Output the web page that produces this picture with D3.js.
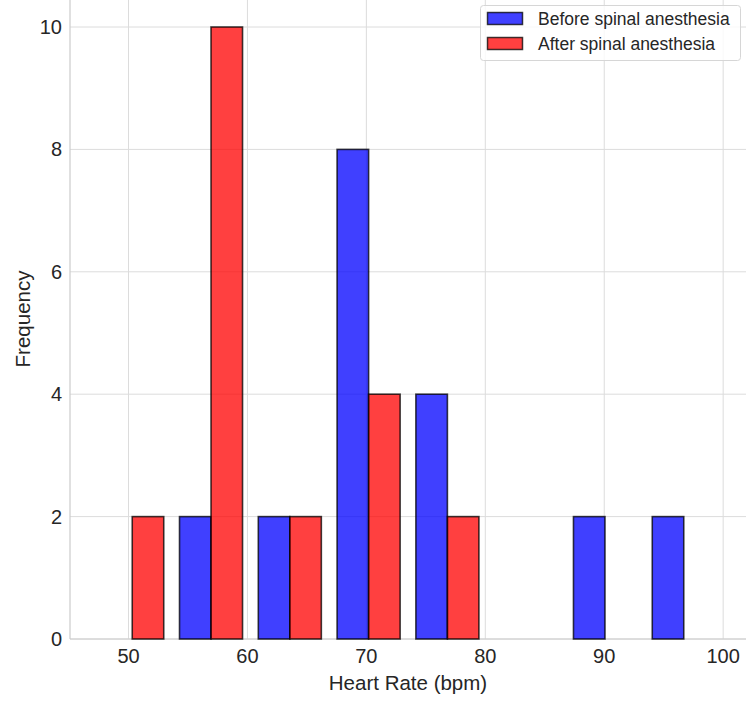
<!DOCTYPE html>
<html><head><meta charset="utf-8">
<script src="https://cdn.jsdelivr.net/npm/d3@7"></script>
<style>body{margin:0;background:#fff;} svg{display:block;font-family:"Liberation Sans",Arial,sans-serif;}</style>
</head><body>
<svg id="chart" width="750" height="705"></svg>
<script>
const binEdges = [47, 53.625, 60.25, 66.875, 73.5, 80.125, 86.75, 93.375, 100];
const beforeCounts = [0, 2, 2, 8, 4, 0, 2, 2];
const afterCounts = [2, 10, 2, 4, 2, 0, 0, 0];
const seriesNames = ["Before spinal anesthesia", "After spinal anesthesia"];
const xTicks = [50, 60, 70, 80, 90, 100];
const yTicks = [0, 2, 4, 6, 8, 10];

const m = {left: 70, right: 746, top: -3.6, bottom: 639};
const svg = d3.select("#chart");
const x = d3.scaleLinear().domain([45.08, 101.92]).range([m.left, m.right]);
const y = d3.scaleLinear().domain([0, 10.5]).range([m.bottom, m.top]);

// grid
const g = svg.append("g");
g.selectAll(".vg").data(xTicks).enter().append("line")
  .attr("x1", d => x(d)).attr("x2", d => x(d)).attr("y1", m.top).attr("y2", m.bottom)
  .attr("stroke", "#dcdcdc").attr("stroke-width", 1);
g.selectAll(".hg").data(yTicks).enter().append("line")
  .attr("x1", m.left).attr("x2", m.right).attr("y1", d => y(d)).attr("y2", d => y(d))
  .attr("stroke", "#dcdcdc").attr("stroke-width", 1);

// spines
svg.append("line").attr("x1", m.left).attr("x2", m.left).attr("y1", 0).attr("y2", m.bottom)
  .attr("stroke", "#cccccc").attr("stroke-width", 1.2);
svg.append("line").attr("x1", m.left).attr("x2", m.right).attr("y1", m.bottom).attr("y2", m.bottom)
  .attr("stroke", "#cccccc").attr("stroke-width", 1.2);

// bars
const series = [
  {name: seriesNames[0], counts: beforeCounts, color: "rgba(0,0,255,0.75)"},
  {name: seriesNames[1], counts: afterCounts, color: "rgba(255,0,0,0.75)"}
];
const dr = 0.8;
series.forEach((s, si) => {
  const bars = s.counts.map((c, i) => {
    const w = binEdges[i+1] - binEdges[i];
    const bw = dr * w / series.length;
    const x0 = binEdges[i] + 0.5 * w - 0.5 * dr * w + si * bw;
    return {x0: x0, x1: x0 + bw, c: c};
  });
  svg.append("g").selectAll("rect").data(bars).enter().append("rect")
    .attr("x", d => x(d.x0)).attr("width", d => x(d.x1) - x(d.x0))
    .attr("y", d => y(d.c)).attr("height", d => y(0) - y(d.c))
    .attr("fill", s.color)
    .attr("stroke", d => d.c === 0 ? "rgba(0,0,0,0.25)" : "rgba(0,0,0,0.75)")
    .attr("stroke-width", d => d.c === 0 ? 1 : 1.6);
});

// tick labels
svg.append("g").selectAll("text").data(xTicks).enter().append("text")
  .attr("x", d => x(d)).attr("y", 663).attr("text-anchor", "middle")
  .attr("font-size", 20).attr("fill", "#262626").text(d => d);
svg.append("g").selectAll("text").data(yTicks).enter().append("text")
  .attr("x", 62).attr("y", d => y(d) + 7).attr("text-anchor", "end")
  .attr("font-size", 20).attr("fill", "#262626").text(d => d);

// axis labels
svg.append("text").attr("x", 408).attr("y", 690).attr("text-anchor", "middle")
  .attr("font-size", 20.5).attr("fill", "#262626").text("Heart Rate (bpm)");
svg.append("text").attr("transform", `translate(30,319) rotate(-90)`)
  .attr("text-anchor", "middle").attr("font-size", 20.5).attr("fill", "#262626").text("Frequency");

// legend
const lg = svg.append("g");
lg.append("rect").attr("x", 480.5).attr("y", 5.5).attr("width", 260).attr("height", 55)
  .attr("rx", 3).attr("fill", "rgba(255,255,255,0.8)").attr("stroke", "#d6d6d6").attr("stroke-width", 1);
series.forEach((s, i) => {
  lg.append("rect").attr("x", 487.5).attr("y", 12.5 + i * 25).attr("width", 35).attr("height", 12)
    .attr("fill", s.color).attr("stroke", "rgba(0,0,0,0.75)").attr("stroke-width", 1.5);
  lg.append("text").attr("x", 538).attr("y", 25 + i * 25).attr("font-size", 17.5)
    .attr("fill", "#262626").text(s.name);
});
</script>
</body></html>
